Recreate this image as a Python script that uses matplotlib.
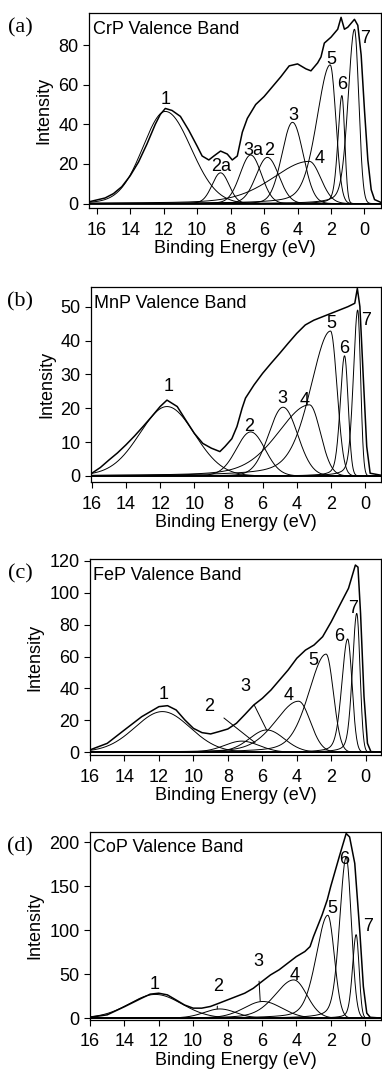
import numpy as np
import matplotlib.pyplot as plt

plt.rcParams['font.family'] = ['Liberation Sans', 'DejaVu Sans']

# ---- (a) CrP ----
crp_e = [16.4, 16, 15.5, 15, 14.5, 14, 13.5, 13, 12.5, 12.2, 11.9, 11.5, 11, 10.5,
         10, 9.7, 9.3, 9.0, 8.6, 8.2, 7.9, 7.6, 7.3, 7.0, 6.5, 6, 5.5, 5, 4.5, 4,
         3.5, 3.2, 2.8, 2.6, 2.4, 2.0, 1.6, 1.4, 1.2, 1.0, 0.8, 0.6, 0.4, 0.2, 0.0,
         -0.2, -0.4, -0.6, -1.0]
crp_i = [1.0, 1.8, 2.8, 5.0, 8.5, 14, 21, 30, 40, 45, 48, 47, 44, 37,
         29, 24, 22, 24, 26.5, 25, 22, 24, 36, 43, 50, 54, 59, 64, 69.5, 70.5,
         68, 67, 71, 74, 81, 84, 88, 94, 88, 89, 91, 93, 90, 75, 47,
         22, 7, 2, 0.5]
crp_names = ['1', '2a', '3a', '2', '3', '4', '5', '6', '7']
crp_pos = [11.9, 8.6, 6.8, 5.8, 4.3, 3.3, 2.05, 1.35, 0.6]
crp_height = [46.5, 15.5, 24.5, 23.3, 41.0, 21.3, 70.0, 54.5, 88.0]
crp_hw_hi = [1.6, 0.6, 0.75, 0.8, 0.75, 2.6, 0.95, 0.28, 0.45]
crp_hw_lo = [1.8, 0.6, 0.75, 0.8, 0.75, 0.8, 0.4, 0.2, 0.3]
crp_tail = [0.1, 0.1, 0.1, 0.1, 0.1, 0.3, 0.3, 0.3, 0.3]
crp_lab_e = [11.9, 8.55, 6.66, 5.67, 4.27, 2.68, 1.99, 1.35, -0.06]
crp_lab_i = [52.5, 18.6, 27, 27, 44.7, 22.8, 72.5, 60, 83.4]

# ---- (b) MnP ----
mnp_e = [16, 15.5, 15, 14.5, 14, 13.5, 13, 12.5, 12, 11.6, 11, 10.5, 10, 9.5, 9,
         8.5, 8.2, 7.8, 7.5, 7.2, 7, 6.5, 6, 5.5, 5, 4.5, 4, 3.5, 3, 2.5, 2, 1.5,
         1, 0.6, 0.45, 0.3, 0.1, -0.1, -0.3, -0.95]
mnp_i = [0.8, 2.5, 4.7, 6.8, 9.2, 11.8, 14.6, 17.5, 20.5, 22.4, 20.5, 16.5, 12.6, 9.6, 8.2,
         7.2, 8.7, 11, 14.6, 20, 23, 26.9, 30.3, 33.3, 36.2, 39.2, 42.1, 44.6, 46, 47, 48, 49,
         50, 51, 55.4, 50, 29, 8.7, 0.8, 0.2]
mnp_names = ['1', '2', '3', '4', '5', '6', '7']
mnp_pos = [11.6, 6.7, 4.8, 3.25, 2.02, 1.2, 0.43]
mnp_height = [20.5, 13.0, 20.3, 21.0, 42.8, 35.5, 49.0]
mnp_hw_hi = [1.9, 1.0, 1.0, 2.2, 1.4, 0.3, 0.3]
mnp_hw_lo = [1.9, 1.0, 1.0, 0.75, 0.45, 0.25, 0.2]
mnp_tail = [0.1, 0.1, 0.1, 0.3, 0.35, 0.3, 0.3]
mnp_lab_e = [11.48, 6.81, 4.84, 3.54, 1.98, 1.2, -0.06]
mnp_lab_i = [26.4, 14.6, 22.9, 22.4, 45.1, 37.7, 46]

# ---- (c) FeP ----
fep_e = [16, 15, 14, 13, 12, 11.5, 11, 10.5, 10, 9.5, 9, 8.5, 8, 7.5, 7, 6.5, 6,
         5.5, 5, 4.5, 4, 3.5, 3, 2.5, 2, 1.5, 1, 0.6, 0.45, 0.3, 0.1, -0.1, -0.3, -0.9]
fep_i = [1.5, 5.6, 14, 22.3, 28.6, 29.2, 26.5, 20.3, 15, 12.3, 11.5, 13, 14.6, 18.2, 23.8, 29.6, 33.8,
         39, 45.3, 51.6, 58.9, 64, 67.2, 72.4, 81.8, 92.3, 102.7, 117.3, 116, 87, 35, 5.6, 0.4, 0.2]
fep_names = ['1', '2', '3', '4', '5', '6', '7']
fep_pos = [11.8, 7.2, 5.75, 3.9, 2.3, 1.05, 0.52]
fep_height = [25.5, 7.0, 14.0, 32.0, 61.5, 71.0, 87.0]
fep_hw_hi = [1.9, 1.2, 1.2, 1.6, 1.2, 0.4, 0.3]
fep_hw_lo = [1.9, 1.2, 1.2, 0.8, 0.5, 0.3, 0.22]
fep_tail = [0.1, 0.2, 0.2, 0.3, 0.3, 0.3, 0.3]
fep_lab_e = [11.75, 9.06, 7.0, 4.5, 3.06, 1.52, 0.75]
fep_lab_i = [35.9, 28.6, 41.1, 35.5, 57.8, 72.4, 90.2]

# ---- (d) CoP ----
cop_e = [16, 15, 14, 13, 12.5, 12, 11.5, 11, 10.5, 10, 9.5, 9, 8.5, 8, 7.5, 7, 6.5,
         6, 5.5, 5, 4.5, 4, 3.5, 3.2, 3, 2.5, 2.2, 2, 1.5, 1.1, 0.9, 0.6, 0.3, 0.1,
         -0.1, -0.3, -0.9]
cop_i = [1, 3.8, 13, 22.7, 27.3, 28.4, 26.5, 20.8, 15, 11.4, 11.4, 13.3, 17, 20.8, 24.6, 28.4, 34,
         41.7, 49.2, 55, 62.5, 70, 75.8, 81.4, 92.8, 117.4, 134.5, 149.6, 183.7, 210, 206, 176, 96.6, 36,
         5.7, 1, 0.2]
cop_names = ['1', '2', '3', '4', '5', '6', '7']
cop_pos = [12.2, 8.45, 5.95, 4.15, 2.17, 1.1, 0.52]
cop_height = [27.0, 10.5, 19.0, 43.5, 117.0, 183.0, 95.0]
cop_hw_hi = [1.8, 1.1, 1.3, 1.3, 0.8, 0.45, 0.25]
cop_hw_lo = [1.8, 1.1, 1.3, 0.9, 0.45, 0.35, 0.2]
cop_tail = [0.1, 0.2, 0.2, 0.3, 0.3, 0.3, 0.3]
cop_lab_e = [12.22, 8.55, 6.23, 4.1, 1.88, 1.2, -0.15]
cop_lab_i = [37.9, 36, 64.4, 49, 125, 180, 104]


def component(e, c, h, w_hi, w_lo, tail):
    hi = e >= c
    d = np.where(hi, (e - c) / w_hi, (e - c) / w_lo)
    g = np.exp(-np.log(2) * d ** 2)
    lor = 1.0 / (1.0 + d ** 2)
    return h * np.where(hi, (1 - tail) * g + tail * lor, g)


panels = [
    dict(tag='(a)', title='CrP Valence Band', e=crp_e, i=crp_i, names=crp_names,
         pos=crp_pos, height=crp_height, hw_hi=crp_hw_hi, hw_lo=crp_hw_lo, tail=crp_tail,
         lab_e=crp_lab_e, lab_i=crp_lab_i, xlim=(16.46, -1.0), ylim=(-2.1, 96.2),
         yticks=[0, 20, 40, 60, 80], rect=[89, 13, 382, 207.7], leaders={}),
    dict(tag='(b)', title='MnP Valence Band', e=mnp_e, i=mnp_i, names=mnp_names,
         pos=mnp_pos, height=mnp_height, hw_hi=mnp_hw_hi, hw_lo=mnp_hw_lo, tail=mnp_tail,
         lab_e=mnp_lab_e, lab_i=mnp_lab_i, xlim=(16.05, -0.95), ylim=(-1.7, 55.9),
         yticks=[0, 10, 20, 30, 40, 50], rect=[91, 286.7, 382, 481.7], leaders={}),
    dict(tag='(c)', title='FeP Valence Band', e=fep_e, i=fep_i, names=fep_names,
         pos=fep_pos, height=fep_height, hw_hi=fep_hw_hi, hw_lo=fep_hw_lo, tail=fep_tail,
         lab_e=fep_lab_e, lab_i=fep_lab_i, xlim=(16.0, -0.9), ylim=(-1.7, 120.9),
         yticks=[0, 20, 40, 60, 80, 100, 120], rect=[90, 559.3, 382, 755],
         leaders={'2': (6.42, 6.0), '3': (5.75, 14.0)}),
    dict(tag='(d)', title='CoP Valence Band', e=cop_e, i=cop_i, names=cop_names,
         pos=cop_pos, height=cop_height, hw_hi=cop_hw_hi, hw_lo=cop_hw_lo, tail=cop_tail,
         lab_e=cop_lab_e, lab_i=cop_lab_i, xlim=(16.0, -0.94), ylim=(-1.5, 212),
         yticks=[0, 50, 100, 150, 200], rect=[90, 831.7, 382, 1019.5],
         leaders={'2': (8.6, 10.5), '3': (6.1, 19.5)}),
]

W, H = 382, 1074
fig = plt.figure(figsize=(W / 100, H / 100), dpi=100)

for p in panels:
    x0, y0, x1, y1 = p['rect']
    ax = fig.add_axes([x0 / W, 1 - y1 / H, (x1 - x0) / W - 0.002, (y1 - y0) / H])
    grid = np.linspace(p['xlim'][0], p['xlim'][1], 900)

    ax.axhline(0, color='black', lw=1.3)
    for k in range(len(p['pos'])):
        y = component(grid, p['pos'][k], p['height'][k], p['hw_hi'][k],
                      p['hw_lo'][k], p['tail'][k])
        ax.plot(grid, y, color='black', lw=0.7)
    ax.plot(p['e'], p['i'], color='black', lw=1.1)

    for name, le, li in zip(p['names'], p['lab_e'], p['lab_i']):
        if name in p['leaders']:
            ax.annotate(name, xy=p['leaders'][name], xytext=(le, li),
                        ha='center', va='center', fontsize=13,
                        arrowprops=dict(arrowstyle='-', lw=0.7, color='black',
                                        shrinkA=6, shrinkB=0))
        else:
            ax.text(le, li, name, ha='center', va='center', fontsize=13)

    ax.text(0.012, 0.915, p['title'], transform=ax.transAxes, fontsize=13,
            ha='left', va='center')
    fig.text(20 / W, 1 - (y0 + 15) / H, p['tag'], fontsize=16,
             family='Liberation Serif', ha='center', va='center')

    ax.set_xlim(p['xlim'])
    ax.set_ylim(p['ylim'])
    ax.set_xticks([16, 14, 12, 10, 8, 6, 4, 2, 0])
    ax.set_yticks(p['yticks'])
    ax.tick_params(direction='out', length=4, width=0.8, labelsize=13)
    ax.tick_params(axis='x', pad=6)
    ax.set_xlabel('Binding Energy (eV)', fontsize=13, labelpad=1)
    ax.set_ylabel('Intensity', fontsize=13, labelpad=4)
    for s in ax.spines.values():
        s.set_linewidth(0.9)

fig.savefig('out.png', dpi=100)
